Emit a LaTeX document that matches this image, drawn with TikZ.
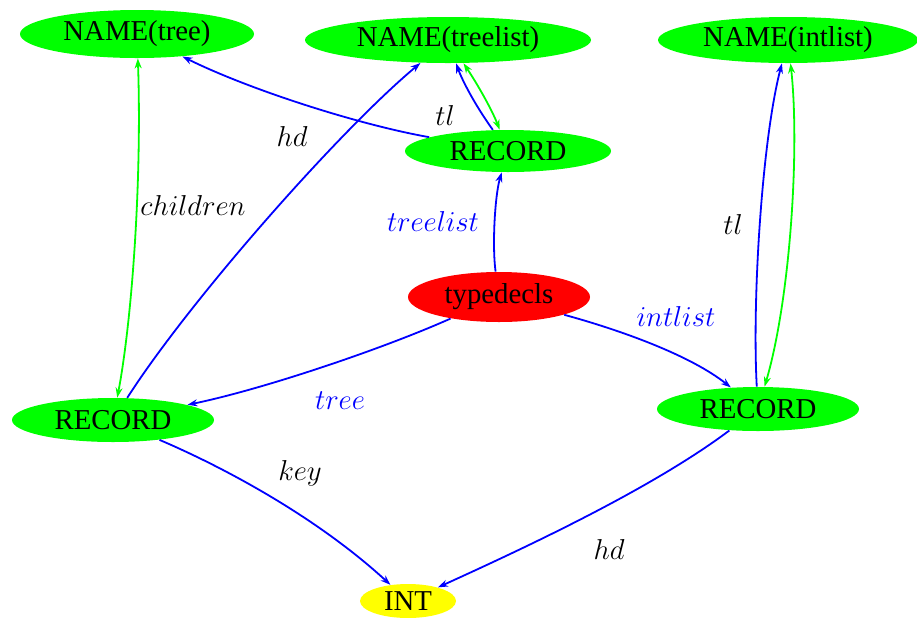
\documentclass[tikz,border=0pt]{standalone}
\usepackage{fontspec}
\setmainfont{Liberation Serif}
\usepackage{tikz}
\usetikzlibrary{arrows.meta}
\usetikzlibrary{shapes,positioning}
\usepackage{xcolor}
\definecolor{clgreen}{RGB}{0,255,0}
\definecolor{clblue}{RGB}{0,0,255}
\definecolor{clred}{RGB}{255,0,0}
\definecolor{clyellow}{RGB}{255,255,0}
\tikzstyle{typenode} = [ellipse, fill=clgreen, inner sep=0pt]
\tikzstyle{rootnode} = [ellipse, fill=clred, inner sep=0pt]
\tikzstyle{basenode} = [ellipse, fill=clyellow, inner sep=0pt]
\tikzstyle{line} = [draw, -{Stealth[length=5pt,width=3.5pt]}, line width=0.9pt, clblue]
\tikzstyle{backlink} = [draw, {Stealth[length=5pt,width=3.5pt]}-{Stealth[length=5pt,width=3.5pt]}, line width=0.9pt, clgreen]
\tikzstyle{elabel} = [inner sep=0pt]

\begin{document}
\begin{tikzpicture}[x=0.5pt, y=-0.5pt, font=\Large]
    \useasboundingbox (0,0) rectangle (917,617);

    \node [typenode, minimum width=117pt, minimum height=24pt] (nametree) at (137,34) {NAME(tree)};
    \node [typenode, minimum width=143pt, minimum height=23pt] (nametreelist) at (448,40) {NAME(treelist)};
    \node [typenode, minimum width=130pt, minimum height=23pt] (nameintlist) at (788,40) {NAME(intlist)};
    \node [typenode, minimum width=103pt, minimum height=21pt] (recordtl) at (508,151) {RECORD};
    \node [rootnode, minimum width=91pt, minimum height=25pt] (typedecls) at (499,297) {typedecls};
    \node [typenode, minimum width=101pt, minimum height=22pt] (recordtree) at (113,420) {RECORD};
    \node [typenode, minimum width=101pt, minimum height=22pt] (recordintlist) at (758,409) {RECORD};
    \node [basenode, minimum width=48pt, minimum height=17pt] (int) at (408,601) {INT};

    % edge labels
    \node [elabel] (hdtree) at (292,136) {$hd$};
    \node [elabel] (tltree) at (445,115) {$tl$};
    \node [elabel] (children) at (193,205) {$children$};
    \node [elabel, text=clblue] (treelist) at (433,221) {$treelist$};
    \node [elabel, text=clblue] (intlist) at (676,316) {$intlist$};
    \node [elabel, text=clblue] (tree) at (340,401) {$tree$};
    \node [elabel] (key) at (300,473) {$key$};
    \node [elabel] (hdint) at (609,549) {$hd$};
    \node [elabel] (tlint) at (733,224) {$tl$};

    \path [line] (typedecls) .. controls (492,245) and (495,195) .. (recordtl);
    \path [line] (typedecls) .. controls (380,350) and (260,390) .. (recordtree);
    \path [line] (typedecls) .. controls (620,330) and (690,355) .. (recordintlist);

    \path [line] (recordtl) .. controls (360,125) and (250,90) .. (nametree);
    \path [line] (recordtl) .. controls (475,105) and (462,80) .. (nametreelist);
    \path [line] (recordtree) .. controls (190,300) and (340,130) .. (nametreelist);
    \path [line] (recordtree) .. controls (230,470) and (320,520) .. (int);
    \path [line] (recordintlist) .. controls (650,490) and (520,550) .. (int);
    \path [line] (recordintlist) .. controls (752,300) and (762,140) .. (nameintlist);

    \path [backlink] (nametree) .. controls (142,180) and (132,320) .. (recordtree);
    \path [backlink] (nametreelist) .. controls (478,85) and (492,110) .. (recordtl);
    \path [backlink] (nameintlist) .. controls (800,150) and (790,300) .. (recordintlist);

\end{tikzpicture}
\end{document}
